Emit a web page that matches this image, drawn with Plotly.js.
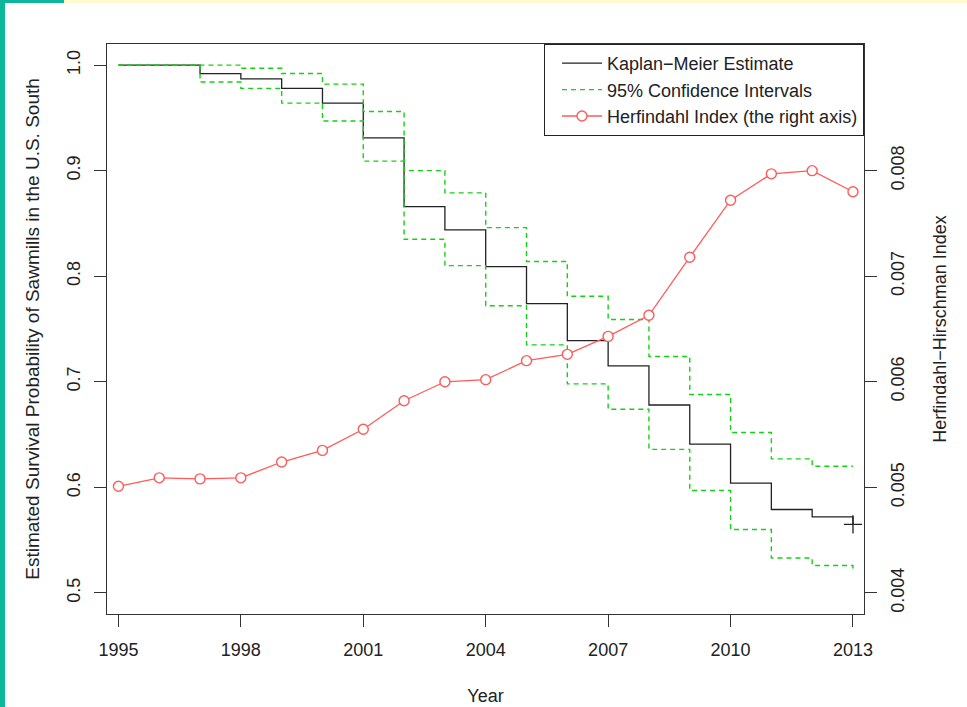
<!DOCTYPE html>
<html>
<head>
<meta charset="utf-8">
<script src="https://cdn.plot.ly/plotly-3.0.1.min.js"></script>
<style>
  html, body { margin: 0; padding: 0; background: #ffffff; }
  #wrap { position: relative; width: 967px; height: 707px; overflow: hidden; background: #ffffff; }
  #chart { position: absolute; left: 0; top: 0; width: 967px; height: 707px; }
  .bar-left { position: absolute; left: 0; top: 0; width: 5px; height: 707px; background: #0db79b; z-index: 2; }
  .bar-top-teal { position: absolute; left: 0; top: 0; width: 64px; height: 3px; background: #0db79b; z-index: 2; }
  .bar-top-yellow { position: absolute; left: 64px; top: 0; width: 903px; height: 3px; background: #fffbd0; z-index: 2; }
</style>
</head>
<body>
<div id="wrap">
  <div id="chart"></div>
  <div class="bar-left"></div>
  <div class="bar-top-teal"></div>
  <div class="bar-top-yellow"></div>
</div>
<script>
// ---- data ----
var years = [1995, 1996, 1997, 1998, 1999, 2000, 2001, 2002, 2003, 2004,
             2005, 2006, 2007, 2008, 2009, 2010, 2011, 2012, 2013];

// Kaplan-Meier survival estimate (left axis), value holding from each year onward
var kmEstimate = [1.000, 1.000, 0.992, 0.987, 0.978, 0.964, 0.931, 0.866, 0.844, 0.809,
                  0.774, 0.739, 0.715, 0.678, 0.641, 0.604, 0.579, 0.572, 0.565];

// 95% confidence interval bounds
var ciUpper = [1.000, 1.000, 1.000, 0.997, 0.992, 0.982, 0.956, 0.900, 0.879, 0.846,
               0.814, 0.781, 0.759, 0.724, 0.688, 0.652, 0.627, 0.620, 0.620];
var ciLower = [1.000, 1.000, 0.984, 0.978, 0.964, 0.947, 0.909, 0.835, 0.810, 0.772,
               0.735, 0.698, 0.674, 0.636, 0.597, 0.560, 0.533, 0.526, 0.522];

// Herfindahl-Hirschman index (right axis)
var herfindahl = [0.00501, 0.00509, 0.00508, 0.00509, 0.00524, 0.00535, 0.00555, 0.00582, 0.00600, 0.00602,
                  0.00620, 0.00626, 0.00643, 0.00663, 0.00718, 0.00772, 0.00797, 0.00800, 0.00780];

var xTickVals = [1995, 1998, 2001, 2004, 2007, 2010, 2013];
var yTickVals = [0.5, 0.6, 0.7, 0.8, 0.9, 1.0];
var y2TickVals = [0.004, 0.005, 0.006, 0.007, 0.008];

var seriesNames = ['Kaplan\u2212Meier Estimate', '95% Confidence Intervals', 'Herfindahl Index (the right axis)'];

// ---- styling ----
var FONT = 'Liberation Sans, Arial, Helvetica, sans-serif';
var FS = 18;
var TXT = '#222222';
var GREEN = '#11d411';
var RED = '#ff5a5a';

var traces = [
  {
    x: years, y: kmEstimate, type: 'scatter', mode: 'lines',
    line: {shape: 'hv', color: '#222222', width: 1.3},
    name: seriesNames[0], yaxis: 'y', legendrank: 1
  },
  {
    x: years, y: ciUpper, type: 'scatter', mode: 'lines',
    line: {shape: 'hv', color: GREEN, width: 1.4, dash: '5px,4px'},
    name: seriesNames[1], yaxis: 'y', legendrank: 2, legendgroup: 'ci'
  },
  {
    x: years, y: ciLower, type: 'scatter', mode: 'lines',
    line: {shape: 'hv', color: GREEN, width: 1.4, dash: '5px,4px'},
    name: seriesNames[1], yaxis: 'y', showlegend: false, legendgroup: 'ci'
  },
  {
    x: [years[years.length - 1]], y: [kmEstimate[kmEstimate.length - 1]],
    type: 'scatter', mode: 'markers',
    marker: {symbol: 'cross-thin', size: 13, line: {color: '#222222', width: 1.3}},
    showlegend: false, hoverinfo: 'skip', yaxis: 'y'
  },
  {
    x: years, y: herfindahl, type: 'scatter', mode: 'lines+markers',
    line: {color: RED, width: 1.3},
    marker: {symbol: 'circle', size: 10, color: '#ffffff', line: {color: RED, width: 1.4}},
    name: seriesNames[2], yaxis: 'y2', legendrank: 3
  }
];

var layout = {
  width: 967, height: 707,
  margin: {l: 107, r: 103, t: 44, b: 93, pad: 0},
  paper_bgcolor: 'rgba(0,0,0,0)',
  plot_bgcolor: '#ffffff',
  font: {family: FONT, size: FS, color: TXT},
  showlegend: true,
  legend: {
    x: 1, xanchor: 'right', y: 1, yanchor: 'top',
    bgcolor: '#ffffff', bordercolor: '#222222', borderwidth: 1,
    font: {family: FONT, size: FS, color: TXT},
    itemwidth: 40, indentation: 12, tracegroupgap: 0, traceorder: 'normal'
  },
  xaxis: {
    range: [1994.72, 2013.27],
    tickvals: xTickVals, ticktext: xTickVals.map(String),
    ticks: 'outside', ticklen: 12, tickwidth: 1, tickcolor: '#333333',
    ticklabelstandoff: 7,
    showline: true, linecolor: '#333333', linewidth: 1, mirror: true,
    showgrid: false, zeroline: false,
    tickfont: {family: FONT, size: FS, color: TXT},
    title: {text: 'Year', font: {family: FONT, size: FS, color: TXT}, standoff: 30}
  },
  yaxis: {
    range: [0.48, 1.02],
    tickvals: yTickVals, ticktext: yTickVals.map(function (v) { return v.toFixed(1); }),
    tickangle: -90,
    ticks: 'outside', ticklen: 12, tickwidth: 1, tickcolor: '#333333',
    ticklabelstandoff: 7,
    showline: true, linecolor: '#333333', linewidth: 1,
    showgrid: false, zeroline: false,
    tickfont: {family: FONT, size: FS, color: TXT},
    title: {text: 'Estimated Survival Probability of Sawmills in the U.S. South',
            font: {family: FONT, size: 19, color: TXT}, standoff: 19}
  },
  yaxis2: {
    overlaying: 'y', side: 'right',
    range: [0.0038, 0.0092],
    tickvals: y2TickVals, ticktext: y2TickVals.map(function (v) { return v.toFixed(3); }),
    tickangle: -90,
    ticks: 'outside', ticklen: 12, tickwidth: 1, tickcolor: '#333333',
    ticklabelstandoff: 5,
    showline: true, linecolor: '#333333', linewidth: 1,
    showgrid: false, zeroline: false,
    tickfont: {family: FONT, size: FS, color: TXT},
    title: {text: 'Herfindahl\u2212Hirschman Index',
            font: {family: FONT, size: FS, color: TXT}, standoff: 26}
  }
};

Plotly.newPlot('chart', traces, layout, {displayModeBar: false, staticPlot: true});
</script>
</body>
</html>
